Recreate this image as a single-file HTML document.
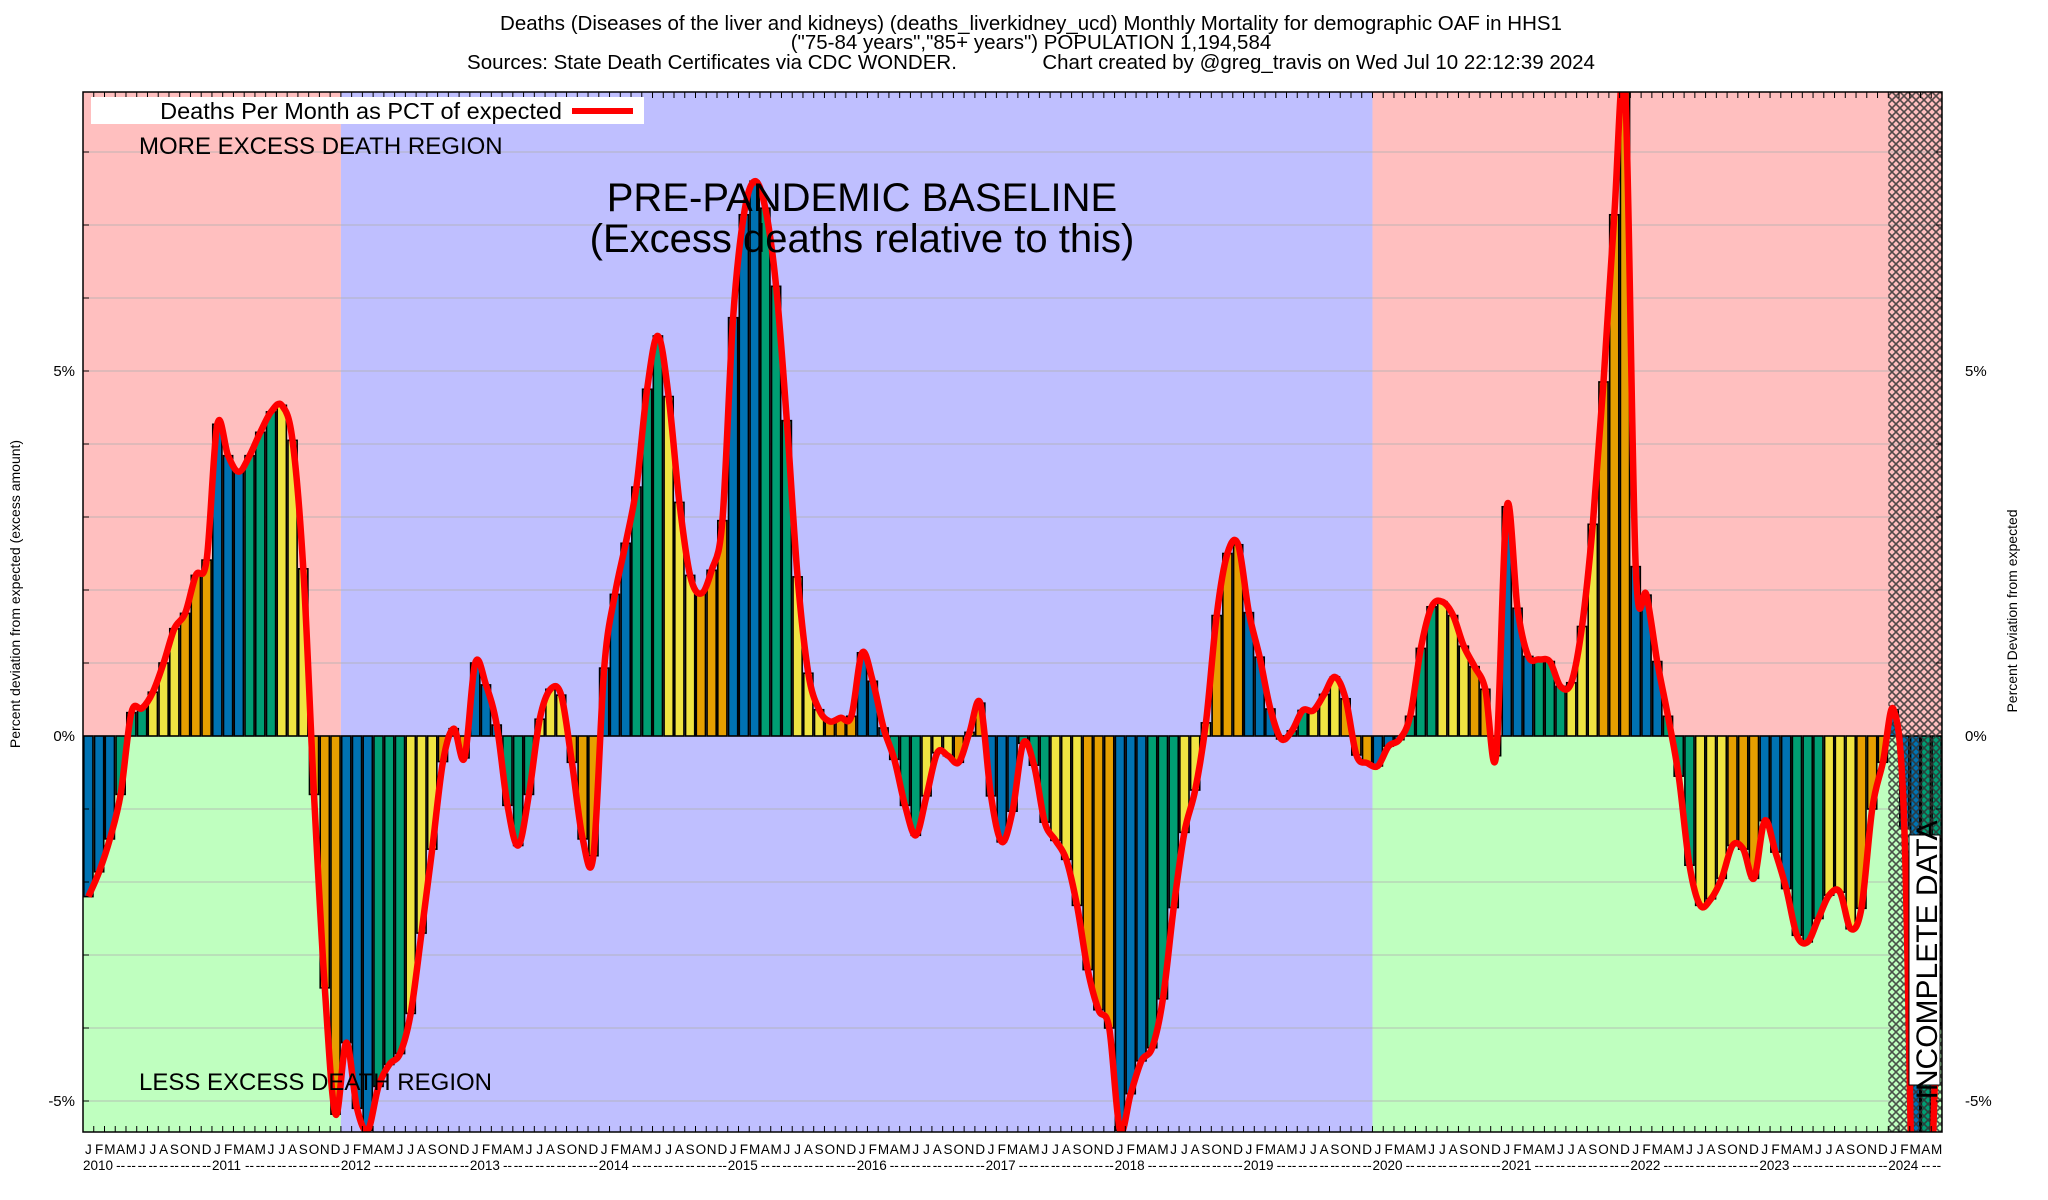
<!DOCTYPE html>
<html><head><meta charset="utf-8">
<style>
html,body{margin:0;padding:0;background:#fff;width:2048px;height:1200px;overflow:hidden;}
svg{display:block;font-family:"Liberation Sans",Arial,sans-serif;}
</style></head>
<body>
<svg id="chart" width="2048" height="1200" viewBox="0 0 2048 1200" xmlns="http://www.w3.org/2000/svg">
<defs>
<clipPath id="plotClip"><rect x="83" y="92" width="1859" height="1040"/></clipPath>
<pattern id="hatch" width="8" height="8" patternUnits="userSpaceOnUse">
<path d="M0,0 L8,8 M8,0 L0,8" stroke="#333" stroke-width="1.6"/>
</pattern>
</defs>
<g id="title" font-size="20.5" text-anchor="middle" fill="#000">
<text x="1031" y="30">Deaths (Diseases of the liver and kidneys) (deaths_liverkidney_ucd) Monthly Mortality for demographic OAF in HHS1</text>
<text x="1031" y="49">("75-84 years","85+ years") POPULATION 1,194,584</text>
<text x="1031" y="69" xml:space="preserve">Sources: State Death Certificates via CDC WONDER.               Chart created by @greg_travis on Wed Jul 10 22:12:39 2024</text>
</g>
<g id="bg"></g>
<g id="grid"></g>
<g id="bars" clip-path="url(#plotClip)"></g>
<g id="hatchLayer"></g>
<g id="line" clip-path="url(#plotClip)"></g>
<g id="axes"></g>
<g id="labels"></g>
<g>
<rect x="91" y="97" width="553" height="27" fill="#fff"/>
<text x="562" y="119" font-size="23.5" text-anchor="end">Deaths Per Month as PCT of expected</text>
<line x1="572" x2="633" y1="111" y2="111" stroke="#ff0000" stroke-width="6"/>
</g>
<text x="139" y="154" font-size="24">MORE EXCESS DEATH REGION</text>
<text x="139" y="1090" font-size="24">LESS EXCESS DEATH REGION</text>
<text x="862" y="211" font-size="40" text-anchor="middle">PRE-PANDEMIC BASELINE</text>
<text x="862" y="252" font-size="40" text-anchor="middle">(Excess deaths relative to this)</text>
<g transform="translate(1925,960) rotate(-90)">
<rect x="-125" y="-16" width="250" height="31" fill="#fff" stroke="#000" stroke-width="1"/>
<text x="0" y="12" font-size="30" text-anchor="middle">INCOMPLETE DATA</text>
</g>
<text transform="translate(20,594) rotate(-90)" font-size="14" text-anchor="middle">Percent deviation from expected (excess amount)</text>
<text transform="translate(2017,611) rotate(-90)" font-size="14" text-anchor="middle">Percent Deviation from expected</text>
</svg>
<script>
const months = ["J","F","M","A","M","J","J","A","S","O","N","D"];
const years = [2010,2011,2012,2013,2014,2015,2016,2017,2018,2019,2020,2021,2022,2023,2024];
const yTicks = [-5,0,5];
const yTickLabels = ["-5%","0%","5%"];
const values = [
-2.2,-1.86,-1.41,-0.8,0.32,0.38,0.6,1.0,1.47,1.68,2.2,2.41,
4.27,3.84,3.62,3.84,4.16,4.44,4.53,4.05,2.29,-0.8,-3.45,-5.18,
-4.2,-5.1,-5.4,-4.8,-4.5,-4.35,-3.8,-2.7,-1.55,-0.35,0.1,-0.3,
1.0,0.7,0.15,-0.95,-1.5,-0.8,0.23,0.64,0.56,-0.36,-1.41,-1.64,
0.93,1.94,2.64,3.41,4.75,5.48,4.65,3.2,2.2,1.95,2.27,2.95,
5.73,7.14,7.6,7.23,6.16,4.32,2.18,0.86,0.36,0.2,0.25,0.27,
1.14,0.75,0.11,-0.32,-0.95,-1.36,-0.82,-0.23,-0.27,-0.36,0.05,0.45,
-0.82,-1.45,-1.03,-0.1,-0.4,-1.18,-1.43,-1.69,-2.32,-3.2,-3.75,-4.0,
-5.4,-4.9,-4.45,-4.27,-3.6,-2.35,-1.32,-0.74,0.18,1.65,2.5,2.62,
1.69,1.08,0.37,-0.04,0.07,0.35,0.35,0.57,0.81,0.51,-0.26,-0.37,
-0.41,-0.14,-0.05,0.27,1.2,1.77,1.84,1.65,1.23,0.95,0.64,-0.27,
3.14,1.75,1.09,1.05,1.02,0.68,0.73,1.5,2.9,4.85,7.14,8.9,
2.32,1.93,1.02,0.27,-0.55,-1.77,-2.32,-2.23,-1.95,-1.5,-1.55,-1.95,
-1.16,-1.59,-2.09,-2.73,-2.82,-2.5,-2.18,-2.14,-2.64,-2.36,-1.0,-0.36,
0.36,-1.27,-8,-8,-4.0
];
const NS="http://www.w3.org/2000/svg";
const L=83,R=1942,T=92,B=1132, N=173;
const MW=(R-L)/N;
function xs(i){return L+i*MW;}
function ys(v){return 736-v*73;}
function mk(tag,attrs,parent){const e=document.createElementNS(NS,tag);for(const k in attrs)e.setAttribute(k,attrs[k]);parent.appendChild(e);return e;}
const bg=document.getElementById('bg'),grid=document.getElementById('grid'),bars=document.getElementById('bars'),
line=document.getElementById('line'),axes=document.getElementById('axes'),labels=document.getElementById('labels'),hl=document.getElementById('hatchLayer');
const z=ys(0);
let r;
r=mk('rect',{x:L,y:T,width:xs(24)-L,height:z-T,fill:'#FFBFBF'},bg);


r=mk('rect',{x:L,y:z,width:xs(24)-L,height:B-z,fill:'#BFFFBF'},bg);


r=mk('rect',{x:xs(24),y:T,width:xs(120)-xs(24),height:B-T,fill:'#BFBFFF'},bg);


r=mk('rect',{x:xs(120),y:T,width:R-xs(120),height:z-T,fill:'#FFBFBF'},bg);


r=mk('rect',{x:xs(120),y:z,width:R-xs(120),height:B-z,fill:'#BFFFBF'},bg);


for(let g=-5;g<=8;g++){const y=ys(g);if(y<T||y>B)continue;
 const gl=mk('line',{x1:L,x2:R,y1:y,y2:y,stroke:'#b0b0b0','stroke-width':1,'stroke-opacity':0.8},grid);
 
 }
const cols=['#0072B2','#009E73','#F0E442','#E69F00'];
values.forEach((v,i)=>{
 const y0=ys(Math.max(v,0)), y1=ys(Math.min(v,0));
 const b=mk('rect',{x:xs(i)+0.8,y:y0,width:MW-1.6,height:Math.max(y1-y0,0.5),fill:cols[Math.floor((i%12)/3)],stroke:'#000','stroke-width':1.6},bars);
 
 
});
r=mk('rect',{x:xs(168),y:T,width:R-xs(168),height:B-T,fill:'url(#hatch)','fill-opacity':0.85},hl);


const pts=values.map((v,i)=>[xs(i)+MW/2,ys(v)]);
let d='M'+pts[0][0]+','+pts[0][1];
for(let i=0;i<pts.length-1;i++){const p0=pts[Math.max(i-1,0)],p1=pts[i],p2=pts[i+1],p3=pts[Math.min(i+2,pts.length-1)];
 const c1=[p1[0]+(p2[0]-p0[0])/6,p1[1]+(p2[1]-p0[1])/6],c2=[p2[0]-(p3[0]-p1[0])/6,p2[1]-(p3[1]-p1[1])/6];
 d+=' C'+c1[0].toFixed(1)+','+c1[1].toFixed(1)+' '+c2[0].toFixed(1)+','+c2[1].toFixed(1)+' '+p2[0].toFixed(1)+','+p2[1].toFixed(1);}
const pl=mk('path',{d:d,fill:'none',stroke:'#ff0000','stroke-width':6.5,'stroke-linejoin':'round'},line);


r=mk('rect',{x:L,y:T,width:R-L,height:B-T,fill:'none',stroke:'#000','stroke-width':1.5},axes);


for(let i=0;i<=N;i++){const x=xs(i);
 const t1=mk('line',{x1:x,x2:x,y1:B,y2:B-6,stroke:'#000','stroke-width':1},axes);
 
 
 const t2=mk('line',{x1:x,x2:x,y1:T,y2:T+6,stroke:'#000','stroke-width':1},axes);
 
 }
for(let g=-5;g<=8;g++){const y=ys(g);
 const t=mk('line',{x1:L,x2:L+6,y1:y,y2:y,stroke:'#000','stroke-width':1},axes);
 
 
 const t2=mk('line',{x1:R,x2:R-6,y1:y,y2:y,stroke:'#000','stroke-width':1},axes);
 
 }
yTicks.forEach((v,k)=>{
 const a=mk('text',{x:75,y:ys(v)+5,'text-anchor':'end','font-size':15},labels);a.textContent=yTickLabels[k];
 
 
 const b=mk('text',{x:1965,y:ys(v)+5,'text-anchor':'start','font-size':15},labels);b.textContent=yTickLabels[k];
 
 });
for(let i=0;i<N;i++){const m=i%12;
 const t=mk('text',{x:xs(i)+MW/2,y:1154,'text-anchor':'middle','font-size':13.5},labels);t.textContent=months[m];
 
 
 if(m===0){const yt=mk('text',{x:xs(i),y:1170,'font-size':13.5},labels);yt.textContent=years[Math.floor(i/12)];
  
  }
 else if(m>=3){const dt=mk('text',{x:xs(i)+MW/2,y:1170,'text-anchor':'middle','font-size':13.5},labels);dt.textContent='--';
  
  }}
const lbl=document.getElementById('labels');
lbl.parentNode.appendChild(lbl);
</script>
</body></html>
